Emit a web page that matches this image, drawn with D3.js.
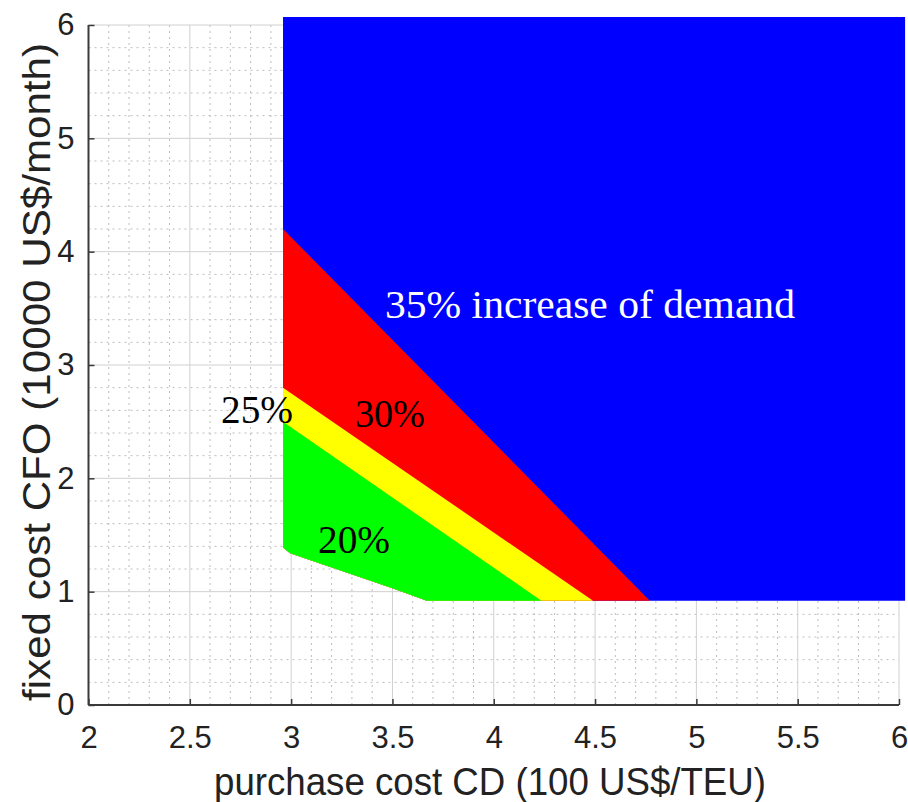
<!DOCTYPE html>
<html>
<head>
<meta charset="utf-8">
<script src="https://cdn.jsdelivr.net/npm/d3@7"></script>
<style>
  body { margin: 0; background: #fff; }
  svg { display: block; }
</style>
</head>
<body>
<div id="chart"></div>
<script>
const W = 908, H = 802

// region outlines (CD, CFO)
const outline = [[2.96, 6.07], [6.03, 6.07], [6.03, 0.92], [3.67, 0.92], [3.5, 1.03], [2.995, 1.34], [2.96, 1.39]]
const bottomEdge = [[4.77, 0.92], [3.67, 0.92], [3.5, 1.03], [2.995, 1.34], [2.96, 1.39]]
const redTop = [[2.96, 4.2], [4.77, 0.92]]
const yellowTop = [[2.96, 2.8], [4.49, 0.92]]
const greenTop = [[2.96, 2.5], [4.235, 0.92]]
const regionColors = ['#0000ff', '#ff0000', '#ffff00', '#00ff00']

const xTicks = [2, 2.5, 3, 3.5, 4, 4.5, 5, 5.5, 6]
const yTicks = [0, 1, 2, 3, 4, 5, 6]

const labels = [
  { text: '35% increase of demand', x: 3.463, y: 3.415, color: '#fff', len: 410 },
  { text: '25%', x: 2.654, y: 2.488, color: '#000', len: 72 },
  { text: '30%', x: 3.315, y: 2.453, color: '#000', len: 70 },
  { text: '20%', x: 3.133, y: 1.341, color: '#000', len: 72 }
]

const x = d3.scaleLinear().domain([2, 6]).range([88.5, 899])
const y = d3.scaleLinear().domain([0, 6]).range([705, 25])

const svg = d3.select('#chart').append('svg')
  .attr('width', W)
  .attr('height', H)

const grid = svg.append('g')

// minor grid, dotted
const minorX = d3.range(2, 6.001, 0.1).filter(v => Math.abs(v * 2 - Math.round(v * 2)) > 1e-6)
const minorY = d3.range(0, 6.001, 0.2).filter(v => Math.abs(v - Math.round(v)) > 1e-6)
grid.selectAll('.mx').data(minorX).enter().append('line')
  .attr('x1', d => x(d)).attr('x2', d => x(d))
  .attr('y1', y(0)).attr('y2', y(6))
  .attr('stroke', '#bdbdbd').attr('stroke-dasharray', '2,4')
grid.selectAll('.my').data(minorY).enter().append('line')
  .attr('y1', d => y(d)).attr('y2', d => y(d))
  .attr('x1', x(2)).attr('x2', x(6))
  .attr('stroke', '#bdbdbd').attr('stroke-dasharray', '2,4')

// major grid
grid.selectAll('.gx').data(xTicks).enter().append('line')
  .attr('x1', d => x(d)).attr('x2', d => x(d))
  .attr('y1', y(0)).attr('y2', y(6))
  .attr('stroke', '#d0d0d0')
grid.selectAll('.gy').data(yTicks).enter().append('line')
  .attr('y1', d => y(d)).attr('y2', d => y(d))
  .attr('x1', x(2)).attr('x2', x(6))
  .attr('stroke', '#d0d0d0')

// regions
const line = d3.line().x(d => x(d[0])).y(d => y(d[1]))
const polys = [
  outline,
  redTop.concat(bottomEdge.slice(1)),
  yellowTop.concat(bottomEdge.slice(1)),
  greenTop.concat(bottomEdge.slice(1))
]
svg.append('g').selectAll('path').data(polys).enter().append('path')
  .attr('d', d => line(d) + 'Z')
  .attr('fill', (d, i) => regionColors[i])

// axes
const ax = svg.append('g').attr('transform', `translate(0,${y(0)})`)
  .call(d3.axisBottom(x).tickValues(xTicks).tickSize(-6).tickPadding(14).tickFormat(d3.format('')))
const ay = svg.append('g').attr('transform', `translate(${x(2)},0)`)
  .call(d3.axisLeft(y).tickValues(yTicks).tickSize(-6).tickPadding(14).tickFormat(d3.format('')))

for (const a of [ax, ay]) {
  a.select('.domain').attr('stroke', '#3a3a3a').attr('stroke-width', 2)
  a.selectAll('.tick line').attr('stroke', '#3a3a3a').attr('stroke-width', 1.5)
  a.selectAll('.tick text')
    .attr('font-family', '"Liberation Sans", Arial, sans-serif')
    .attr('font-size', 31)
    .attr('fill', '#222')
}
ax.select('.domain').attr('d', `M${x(2)},0H${x(6)}`)
ay.select('.domain').attr('d', `M0,${y(0)}V${y(6)}`)
ax.selectAll('.tick text').attr('dy', '0.95em')

// axis titles
svg.append('text')
  .attr('x', 490).attr('y', 795)
  .attr('text-anchor', 'middle')
  .attr('font-family', '"Liberation Sans", Arial, sans-serif')
  .attr('font-size', 38)
  .attr('fill', '#222')
  .attr('textLength', 552).attr('lengthAdjust', 'spacingAndGlyphs')
  .text('purchase cost CD (100 US$/TEU)')

svg.append('text')
  .attr('transform', 'translate(50,372) rotate(-90)')
  .attr('text-anchor', 'middle')
  .attr('font-family', '"Liberation Sans", Arial, sans-serif')
  .attr('font-size', 38)
  .attr('fill', '#222')
  .attr('textLength', 658).attr('lengthAdjust', 'spacingAndGlyphs')
  .text('fixed cost CFO (10000 US$/month)')

// region labels
svg.append('g').selectAll('text').data(labels).enter().append('text')
  .attr('x', d => x(d.x)).attr('y', d => y(d.y))
  .attr('font-family', '"Liberation Serif", "Times New Roman", serif')
  .attr('font-size', 39)
  .attr('fill', d => d.color)
  .attr('textLength', d => d.len).attr('lengthAdjust', 'spacingAndGlyphs')
  .text(d => d.text)
</script>
</body>
</html>
